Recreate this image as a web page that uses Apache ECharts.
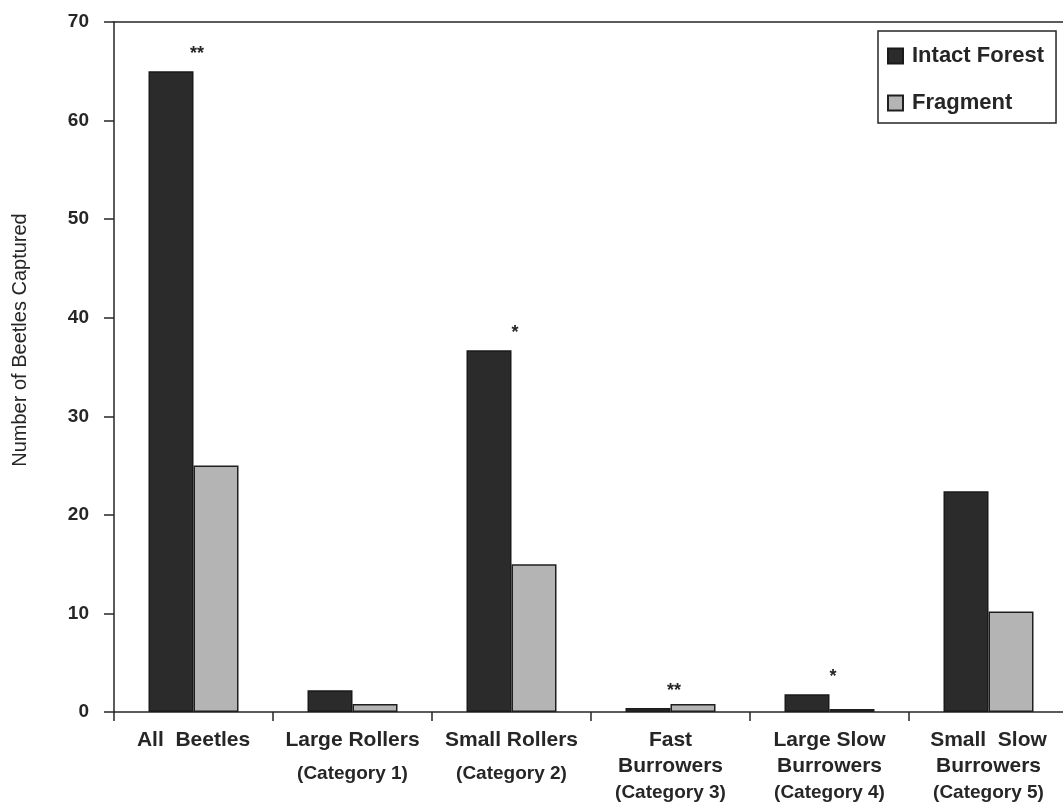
<!DOCTYPE html>
<html>
<head>
<meta charset="utf-8">
<script src="https://cdn.jsdelivr.net/npm/echarts@6/dist/echarts.min.js"></script>
<style>
html,body{margin:0;padding:0;background:#fff;}
#chart{width:1063px;height:804px;}
</style>
</head>
<body>
<div id="chart"></div>
<script>
const categories = ['All  Beetles', 'Large Rollers', 'Small Rollers', 'Fast\nBurrowers', 'Large Slow\nBurrowers', 'Small  Slow\nBurrowers'];
const categoryNotes = ['', '(Category 1)', '(Category 2)', '(Category 3)', '(Category 4)', '(Category 5)'];
const intactForest = [65, 2.2, 36.7, 0.4, 1.8, 22.4];
const fragment = [25, 0.8, 15, 0.8, 0.3, 10.2];
const significance = ['**', '', '*', '**', '*', ''];
const yTicks = [0, 10, 20, 30, 40, 50, 60, 70];

const FONT = '"Liberation Sans", Arial, Helvetica, sans-serif';
const INK = '#262626';

const chart = echarts.init(document.getElementById('chart'), null, {renderer: 'canvas'});

const option = {
  animation: false,
  backgroundColor: '#ffffff',
  textStyle: {fontFamily: FONT},
  grid: {left: 114, top: 22, width: 954, bottom: 92, containLabel: false, outerBoundsMode: 'none'},
  legend: {
    data: ['Intact Forest', 'Fragment'],
    orient: 'vertical',
    left: 878,
    top: 31,
    padding: [14, 12, 9, 9],
    itemGap: 25,
    itemWidth: 15,
    itemHeight: 15,
    borderColor: INK,
    borderWidth: 1.5,
    borderRadius: 0,
    icon: 'rect',
    textStyle: {fontFamily: FONT, fontSize: 22, fontWeight: 'bold', color: INK, padding: [0, 0, 0, 4]}
  },
  xAxis: [{
    type: 'category',
    data: categories,
    position: 'bottom',
    axisLine: {show: true, lineStyle: {color: INK, width: 1.5}},
    axisTick: {show: true, length: 9, inside: false, lineStyle: {color: INK, width: 1.5}},
    splitLine: {show: false},
    axisLabel: {
      interval: 0,
      margin: 15,
      color: INK,
      fontFamily: FONT,
      formatter: function (value, idx) {
        const lines = value.split('\n').map(l => '{m|' + l + '}');
        const note = categoryNotes[idx];
        if (note) {
          lines.push((lines.length === 1 ? '{c2|' : '{c|') + note + '}');
        }
        return lines.join('\n');
      },
      rich: {
        m: {fontSize: 21, fontWeight: 'bold', color: INK, lineHeight: 26, fontFamily: FONT},
        c: {fontSize: 19, fontWeight: 'bold', color: INK, lineHeight: 28, fontFamily: FONT},
        c2: {fontSize: 19, fontWeight: 'bold', color: INK, lineHeight: 42, fontFamily: FONT}
      }
    }
  }, {
    type: 'category',
    data: categories,
    position: 'top',
    axisLine: {show: true, lineStyle: {color: INK, width: 1.5}},
    axisTick: {show: false},
    axisLabel: {show: false},
    splitLine: {show: false}
  }],
  yAxis: {
    type: 'value',
    min: yTicks[0],
    max: yTicks[yTicks.length - 1],
    interval: 10,
    name: 'Number of Beetles Captured',
    nameLocation: 'middle',
    nameGap: 84,
    nameRotate: 90,
    nameTextStyle: {fontFamily: FONT, fontSize: 20, color: INK, padding: [0, 0, 0, 54]},
    axisLine: {show: true, lineStyle: {color: INK, width: 1.5}},
    axisTick: {show: true, length: 10, inside: false, lineStyle: {color: INK, width: 1.5}},
    splitLine: {show: false},
    axisLabel: {margin: 25, fontSize: 19, fontWeight: 'bold', color: INK, fontFamily: FONT}
  },
  series: [{
    name: 'Intact Forest',
    type: 'bar',
    data: intactForest,
    barWidth: 45,
    barGap: '0%',
    itemStyle: {color: '#2b2b2b', borderColor: '#1a1a1a', borderWidth: 1.5},
    label: {
      show: true,
      position: 'top',
      distance: 5,
      offset: [26, -3],
      fontSize: 18,
      fontWeight: 'bold',
      color: INK,
      fontFamily: FONT,
      formatter: function (p) { return significance[p.dataIndex]; }
    }
  }, {
    name: 'Fragment',
    type: 'bar',
    data: fragment,
    barWidth: 45,
    barGap: '0%',
    itemStyle: {color: '#b4b4b4', borderColor: '#1f1f1f', borderWidth: 1.5}
  }]
};

chart.setOption(option);
</script>
</body>
</html>
